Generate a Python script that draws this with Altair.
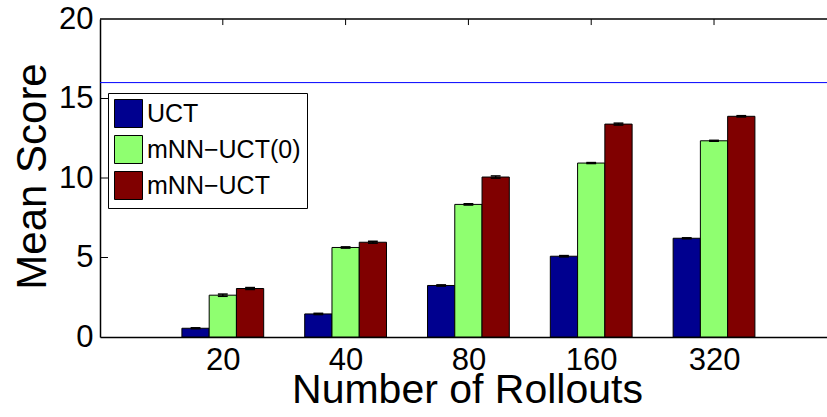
import altair as alt
import pandas as pd

# ---- data ----
rollouts = ["20", "40", "80", "160", "320"]
series = ["UCT", "mNN\u2212UCT(0)", "mNN\u2212UCT"]
uct = [0.55, 1.45, 3.24, 5.08, 6.21]
mnn0 = [2.63, 5.63, 8.34, 10.94, 12.34]
mnn = [3.05, 5.96, 10.06, 13.39, 13.88]
err_uct = [0.03, 0.04, 0.04, 0.04, 0.03]
err_mnn0 = [0.07, 0.04, 0.04, 0.03, 0.03]
err_mnn = [0.06, 0.06, 0.07, 0.06, 0.04]
reference_line = [16]
colors = ["#00008F", "#8FFF70", "#800000"]

FONT = "Liberation Sans"
BAR_W = 0.222
CAP = 0.04
XMAX = 5.92

values = [uct, mnn0, mnn]
errs = [err_uct, err_mnn0, err_mnn]
rows = []
for gi, r in enumerate(rollouts):
    for si, s in enumerate(series):
        pos = gi + 1 + (si - 1) * BAR_W
        v = values[si][gi]
        e = errs[si][gi]
        rows.append(dict(rollouts=r, series=s, value=v,
                         x0=pos - BAR_W / 2, x1=pos + BAR_W / 2,
                         xc=pos, c0=pos - CAP, c1=pos + CAP,
                         lo=v - e, hi=v + e))
df = pd.DataFrame(rows)

xscale = alt.Scale(domain=[0, XMAX], nice=False, zero=False)
yscale = alt.Scale(domain=[0, 20], nice=False)

label_expr = "['', '20', '40', '80', '160', '320'][datum.value]"

bars = alt.Chart(df).mark_bar(stroke="black", strokeWidth=1, opacity=1).encode(
    x=alt.X("x0:Q", scale=xscale,
            axis=alt.Axis(values=[1, 2, 3, 4, 5], labelExpr=label_expr,
                          title="Number of Rollouts", titleFontSize=41,
                          titleFont=FONT, titleFontWeight="normal",
                          labelFont=FONT, labelFontSize=31, labelColor="black",
                          titleColor="black", ticks=False, labelPadding=8,
                          labelFlush=False, labelOverlap=False, grid=False,
                          domainColor="black", domainWidth=1.5,
                          titleX=367, titleY=65, titleBaseline="alphabetic",
                          titleAlign="center")),
    x2="x1:Q",
    y=alt.Y("value:Q", scale=yscale,
            axis=alt.Axis(values=[0, 5, 10, 15, 20], title="Mean Score",
                          titleFontSize=42, titleFont=FONT,
                          titleFontWeight="normal", labelFont=FONT,
                          labelFontSize=31, labelColor="black",
                          titleColor="black", ticks=False, labelPadding=7,
                          labelFlush=False, labelOverlap=False, grid=False,
                          domainColor="black", domainWidth=1.5,
                          titleX=-55, titleY=157, titleBaseline="alphabetic",
                          titleAlign="center", titleAngle=270)),
    y2=alt.datum(0),
    color=alt.Color("series:N", scale=alt.Scale(domain=series, range=colors),
                    legend=alt.Legend(orient="none", legendX=8, legendY=74,
                                      title=None, symbolType="square",
                                      symbolSize=784, symbolStrokeColor="black",
                                      symbolStrokeWidth=1, symbolOpacity=1,
                                      labelFont=FONT, labelFontSize=25,
                                      labelColor="black", labelLimit=400,
                                      rowPadding=3, labelOffset=4, padding=6,
                                      strokeColor="black", fillColor="white",
                                      cornerRadius=0)),
)

err_v = alt.Chart(df).mark_rule(color="black", strokeWidth=1.5).encode(
    x=alt.X("xc:Q", scale=xscale), y=alt.Y("lo:Q", scale=yscale), y2="hi:Q")
cap_hi = alt.Chart(df).mark_rule(color="black", strokeWidth=1.5).encode(
    x=alt.X("c0:Q", scale=xscale), x2="c1:Q", y=alt.Y("hi:Q", scale=yscale))
cap_lo = alt.Chart(df).mark_rule(color="black", strokeWidth=1.5).encode(
    x=alt.X("c0:Q", scale=xscale), x2="c1:Q", y=alt.Y("lo:Q", scale=yscale))

hline = alt.Chart(pd.DataFrame({"y": reference_line})).mark_rule(
    color="#0000FF", strokeWidth=1).encode(
    y=alt.Y("y:Q", scale=yscale), x=alt.datum(0, scale=xscale), x2=alt.datum(XMAX))

top_border = alt.Chart(pd.DataFrame({"y": [20]})).mark_rule(
    color="black", strokeWidth=1.5).encode(
    y=alt.Y("y:Q", scale=yscale), x=alt.datum(0, scale=xscale), x2=alt.datum(XMAX))

top_ticks = alt.Chart(pd.DataFrame({"x": [1, 2, 3, 4, 5]})).mark_rule(
    color="black", strokeWidth=1).encode(
    x=alt.X("x:Q", scale=xscale), y=alt.datum(20, scale=yscale), y2=alt.datum(19.62))

left_ticks = alt.Chart(pd.DataFrame({"y": [5, 10, 15]})).mark_rule(
    color="black", strokeWidth=1).encode(
    y=alt.Y("y:Q", scale=yscale), x=alt.datum(0, scale=xscale), x2=alt.datum(0.065))

chart = alt.layer(bars, err_v, cap_hi, cap_lo, hline, top_border, top_ticks,
                  left_ticks).properties(
    width=727, height=318,
    autosize=alt.AutoSizeParams(type="none"),
    padding={"left": 100, "top": 19, "right": 0, "bottom": 80},
    background="white",
).configure_view(stroke=None)

chart.save("out.html", embed_options={"renderer": "svg", "actions": False})
